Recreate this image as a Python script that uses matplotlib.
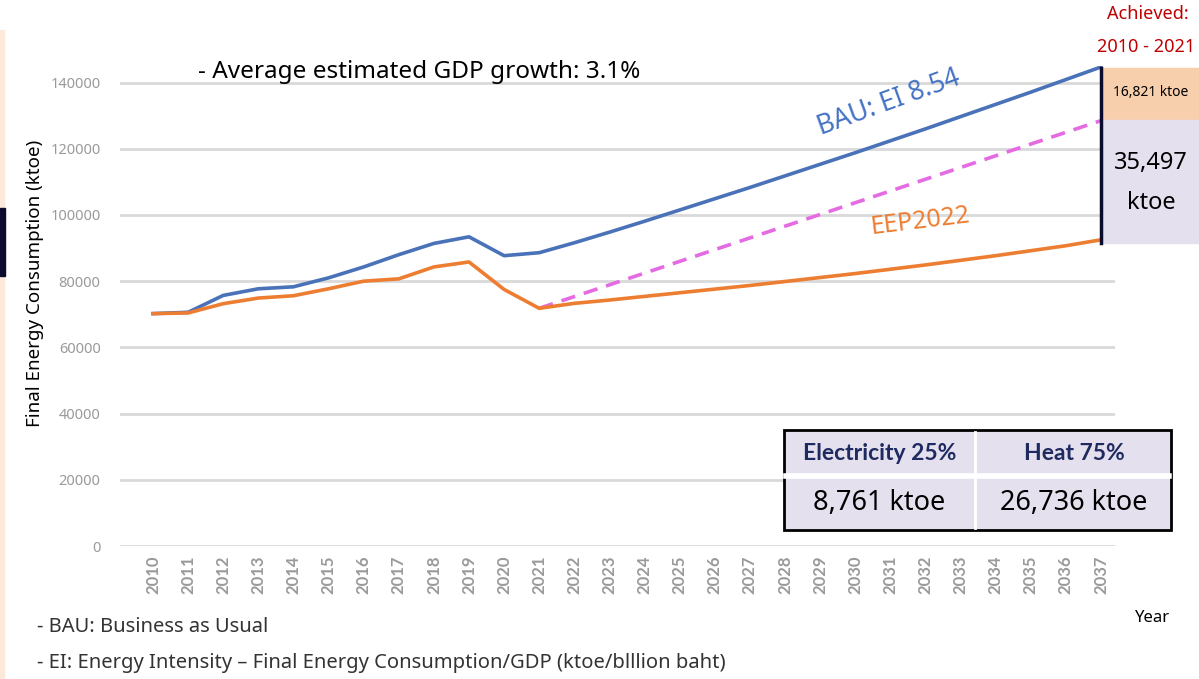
import numpy as np
import matplotlib.pyplot as plt
from matplotlib.patches import Rectangle

plt.rcParams['font.family'] = ['Noto Sans', 'DejaVu Sans']

# data
years = list(range(2010, 2038))
bau = [70200, 70600, 75700, 77700, 78300, 81000, 84300, 88000, 91400, 93400,
       87700, 88600, 91600, 94800, 98100, 101500, 104900, 108300, 111800,
       115300, 118800, 122400, 126000, 129700, 133400, 137100, 140900, 144700]
eep = [70200, 70400, 73200, 74900, 75600, 77700, 80000, 80700, 84300, 85800,
       77500, 71800, 73300, 74300, 75400, 76500, 77600, 78700, 79900, 81100,
       82300, 83600, 84900, 86300, 87700, 89200, 90700, 92500]
target_years = [2021, 2037]
target = [71800, 128500]
y_ticks = [0, 20000, 40000, 60000, 80000, 100000, 120000, 140000]

W, H = 1199, 679
fig = plt.figure(figsize=(W / 100, H / 100), dpi=100)

def fx(px):
    return px / W

def fy(py):
    return 1 - py / H

# plot area
ax = fig.add_axes([fx(120), fy(546), fx(1115) - fx(120), fy(66) - fy(546)])
ax.set_xlim(2009.06, 2037.4)
ax.set_ylim(0, 145000)
for s in ax.spines.values():
    s.set_visible(False)
ax.set_yticks(y_ticks)
ax.set_yticklabels([str(v) for v in y_ticks], color='#9a9a9a', fontsize=10.5)
ax.set_xticks(years)
ax.set_xticklabels([str(y) for y in years], rotation=90, color='#9a9a9a',
                   fontsize=12, fontweight='bold', family=['Lato', 'DejaVu Sans'])
ax.tick_params(length=0, pad=14)
ax.tick_params(axis='x', pad=7)
ax.grid(axis='y', color='#d9d9d9', lw=2)
ax.set_axisbelow(True)

ax.plot(years, bau, color='#4a72b8', lw=2.6, zorder=3)
ax.plot(years, eep, color='#ed7d31', lw=2.6, zorder=3)
ax.plot(target_years, target, color='#e56be3', lw=2.6, ls=(0, (4, 2.5)), zorder=2)

ax.text(2030.95, 134000, 'BAU: EI 8.54', color='#4472c4', fontsize=19,
        rotation=20, ha='center', va='center')
ax.text(2031.85, 98000, 'EEP2022', color='#ed7d31', fontsize=18,
        rotation=7, ha='center', va='center')

# texts in figure coordinates
fig.text(fx(198), fy(72), '- Average estimated GDP growth: 3.1%', fontsize=17.5,
         ha='left', va='center', color='black')
fig.text(fx(35), fy(283), 'Final Energy Consumption (ktoe)', rotation=90,
         fontsize=13.5, ha='center', va='center')
fig.text(fx(1153), fy(618), 'Year', fontsize=12, ha='center', va='center')
fig.text(fx(37), fy(627), '- BAU: Business as Usual', fontsize=14.5,
         ha='left', va='center', color='#333333')
fig.text(fx(37), fy(663),
         '- EI: Energy Intensity \u2013 Final Energy Consumption/GDP (ktoe/blllion baht)',
         fontsize=14.5, ha='left', va='center', color='#333333')

# left slide decorations
fig.patches.append(Rectangle((0, fy(679)), fx(4), fy(30) - fy(679),
                             transform=fig.transFigure, color='#fde9d9', zorder=0))
fig.patches.append(Rectangle((0, fy(276)), fx(5), fy(208) - fy(276),
                             transform=fig.transFigure, color='#0b0b2e', zorder=1))

# achieved box on the right
fig.text(fx(1148), fy(14), 'Achieved:', color='#c00000', fontsize=13,
         ha='center', va='center')
fig.text(fx(1146), fy(47), '2010 - 2021', color='#c00000', fontsize=13,
         ha='center', va='center')
fig.patches.append(Rectangle((fx(1101), fy(120)), fx(98), fy(68) - fy(120),
                             transform=fig.transFigure, color='#f8cfad', zorder=1))
fig.patches.append(Rectangle((fx(1101), fy(243)), fx(98), fy(120) - fy(243),
                             transform=fig.transFigure, color='#e4e0ee', zorder=1))
fig.text(fx(1151), fy(93), '16,821 ktoe', fontsize=10, ha='center', va='center')
fig.text(fx(1151), fy(163), '35,497', fontsize=17, ha='center', va='center')
fig.text(fx(1151), fy(203), 'ktoe', fontsize=17, ha='center', va='center')
fig.add_artist(plt.Line2D([fx(1101), fx(1101)], [fy(68), fy(243)],
                          transform=fig.transFigure, color='#0b0b2e', lw=2.5))

# table
tx0, tx1, tmid = 784, 1171, 975
ty0, tmidy, ty1 = 430, 476, 530
fig.patches.append(Rectangle((fx(tx0), fy(ty1)), fx(tx1 - tx0), fy(ty0) - fy(ty1),
                             transform=fig.transFigure, facecolor='#e5e0ee',
                             edgecolor='black', lw=2, zorder=5))
fig.add_artist(plt.Line2D([fx(tx0 + 2), fx(tx1 - 2)], [fy(tmidy), fy(tmidy)],
                          transform=fig.transFigure, color='white', lw=4, zorder=6))
fig.add_artist(plt.Line2D([fx(tmid), fx(tmid)], [fy(ty0 + 2), fy(ty1 - 2)],
                          transform=fig.transFigure, color='white', lw=2, zorder=6))
fig.text(fx(880), fy(453), 'Electricity 25%', color='#1f2a60', fontsize=16.5,
         ha='center', va='center', zorder=7, fontweight='bold',
         family=['Lato', 'DejaVu Sans'])
fig.text(fx(1074), fy(453), 'Heat 75%', color='#1f2a60', fontsize=16.5,
         ha='center', va='center', zorder=7, fontweight='bold',
         family=['Lato', 'DejaVu Sans'])
fig.text(fx(879), fy(503), '8,761 ktoe', color='black', fontsize=19.5,
         ha='center', va='center', zorder=7)
fig.text(fx(1074), fy(503), '26,736 ktoe', color='black', fontsize=19.5,
         ha='center', va='center', zorder=7)

fig.savefig('out.png', dpi=100)
